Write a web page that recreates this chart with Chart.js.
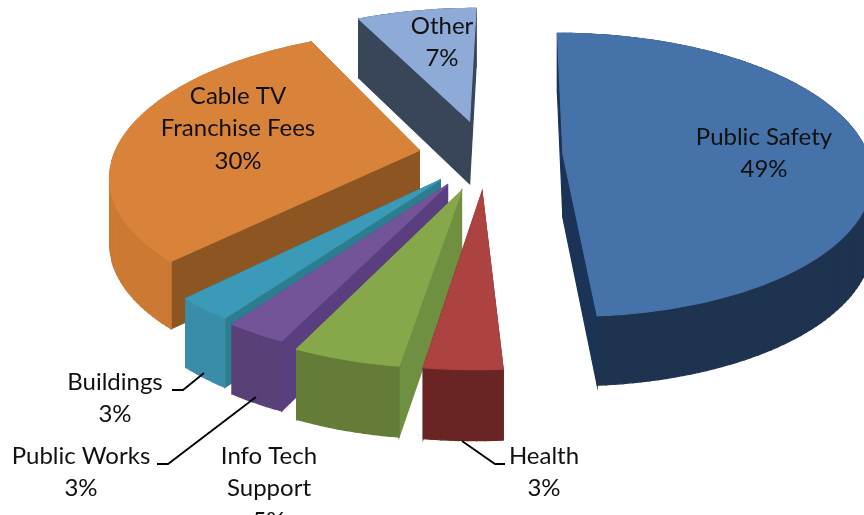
<!DOCTYPE html>
<html>
<head>
<meta charset="utf-8">
<style>
  html, body { margin: 0; padding: 0; background: #fff; overflow: hidden; }
  canvas { display: block; }
</style>
<script src="https://cdn.jsdelivr.net/npm/chart.js@4"></script>
</head>
<body>
<canvas id="pieChart" width="864" height="515"></canvas>
<script>
// Slices, clockwise from 12 o'clock. Shares, labels show them rounded
const categories = ['Public Safety', 'Health', 'Info Tech Support', 'Public Works', 'Buildings', 'Cable TV Franchise Fees', 'Other'];
const shares = [48.8, 3.4, 4.7, 2.7, 2.6, 30.4, 7.4];

// Explosion of each slice in px
const explode = [77, 78, 79, 73, 69, 68, 80];

const topColors = ['#4672aa', '#ad4341', '#86a84b', '#745499', '#3b9ab8', '#d9833a', '#8eaad6'];
const outerColors = ['#1e3350', '#6a2424', '#647c37', '#5a4078', '#3a8da8', '#cc7a33', '#394559'];
const sideColors = ['#1a3357', '#6a2424', '#6f9040', '#5a3f80', '#2d7d90', '#8c5522', '#394559'];

// Label text lines, centre x and y of the first line
const labelLines = [['Public Safety'], ['Health'], ['Info Tech', 'Support'], ['Public Works'], ['Buildings'], ['Cable TV', 'Franchise Fees'], ['Other']];
const labelX = [764, 544, 269, 81, 115, 238, 442];
const labelY = [137, 456, 456, 456, 382, 96, 26];

// Leader lines for the small slices
const leaders = [
  [[172, 390], [183, 390], [204, 373]],
  [[157, 464], [168, 464], [256, 397]],
  [[462, 441], [495, 464], [505, 464]]
];

const TILT = 0.455;      // vertical squash of the pie plane
const PERSP = 0.15;      // how much closer things grow
const VANISH = 35;       // vanishing point right of the centre
const DEPTH = 64;        // thickness of the pie

function project(arc, px, py) {
  const yn = py / arc.outerRadius;
  const s = 1 / (1 - PERSP * yn);
  return { x: arc.x + px * s + VANISH * (1 - s), y: arc.y + py * TILT * s, s: s, yn: yn };
}

function fillPoly(ctx, pts, color) {
  ctx.beginPath();
  pts.forEach((p, i) => i ? ctx.lineTo(p.x, p.y) : ctx.moveTo(p.x, p.y));
  ctx.closePath();
  ctx.fillStyle = color;
  ctx.fill();
  ctx.strokeStyle = color;
  ctx.lineWidth = 1.2;
  ctx.stroke();
}

function down(p) {
  return { x: p.x, y: p.y + DEPTH * Math.sqrt(p.s) };
}

// Extruded slice built from the geometry Chart.js worked out for the arc
function drawSlice(ctx, arc, i) {
  const mid = (arc.startAngle + arc.endAngle) / 2;
  const off = arc.options.offset;
  const ox = Math.cos(mid) * off, oy = Math.sin(mid) * off;
  const apex = project(arc, ox, oy);
  const rim = [];
  const steps = Math.max(4, Math.ceil((arc.endAngle - arc.startAngle) * 40));
  for (let k = 0; k <= steps; k++) {
    const a = arc.startAngle + (arc.endAngle - arc.startAngle) * k / steps;
    rim.push(project(arc, ox + Math.cos(a) * arc.outerRadius, oy + Math.sin(a) * arc.outerRadius));
  }
  const walls = [];
  walls.push({ d: (apex.yn + rim[0].yn) / 2, pts: [apex, rim[0], down(rim[0]), down(apex)], c: sideColors[i] });
  const last = rim[rim.length - 1];
  walls.push({ d: (apex.yn + last.yn) / 2, pts: [apex, last, down(last), down(apex)], c: sideColors[i] });
  for (let k = 0; k < steps; k++) {
    const a = rim[k], b = rim[k + 1];
    walls.push({ d: (a.yn + b.yn) / 2, pts: [a, b, down(b), down(a)], c: outerColors[i] });
  }
  walls.sort((p, q) => p.d - q.d).forEach(w => fillPoly(ctx, w.pts, w.c));
  fillPoly(ctx, [apex].concat(rim), topColors[i]);
}

const pie3d = {
  id: 'pie3d',
  beforeDatasetDraw(chart, args) {
    const ctx = chart.ctx;
    const arcs = args.meta.data;
    const order = arcs.map((a, i) => i).sort((p, q) => {
      const mp = (arcs[p].startAngle + arcs[p].endAngle) / 2;
      const mq = (arcs[q].startAngle + arcs[q].endAngle) / 2;
      return Math.sin(mp) - Math.sin(mq);
    });
    order.forEach(i => drawSlice(ctx, arcs[i], i));
    return false;
  },
  afterDatasetsDraw(chart) {
    const ctx = chart.ctx;
    ctx.save();
    ctx.strokeStyle = '#000';
    ctx.lineWidth = 1.8;
    leaders.forEach(line => {
      ctx.beginPath();
      line.forEach((p, i) => i ? ctx.lineTo(p[0], p[1]) : ctx.moveTo(p[0], p[1]));
      ctx.stroke();
    });
    ctx.fillStyle = '#111';
    ctx.font = '24px Lato';
    ctx.textAlign = 'center';
    ctx.textBaseline = 'middle';
    categories.forEach((name, i) => {
      const lines = labelLines[i].concat(Math.round(shares[i]) + '%');
      lines.forEach((t, k) => ctx.fillText(t, labelX[i], labelY[i] + k * 32.5));
    });
    ctx.restore();
  }
};

new Chart(document.getElementById('pieChart').getContext('2d'), {
  type: 'pie',
  data: {
    labels: categories,
    datasets: [{ data: shares, offset: explode, backgroundColor: topColors, borderWidth: 0 }]
  },
  options: {
    responsive: false,
    animation: false,
    radius: 305,
    layout: { padding: { left: 108, top: 0, right: 0, bottom: 205 } },
    plugins: { legend: { display: false }, tooltip: { enabled: false } }
  },
  plugins: [pie3d]
});
</script>
</body>
</html>
